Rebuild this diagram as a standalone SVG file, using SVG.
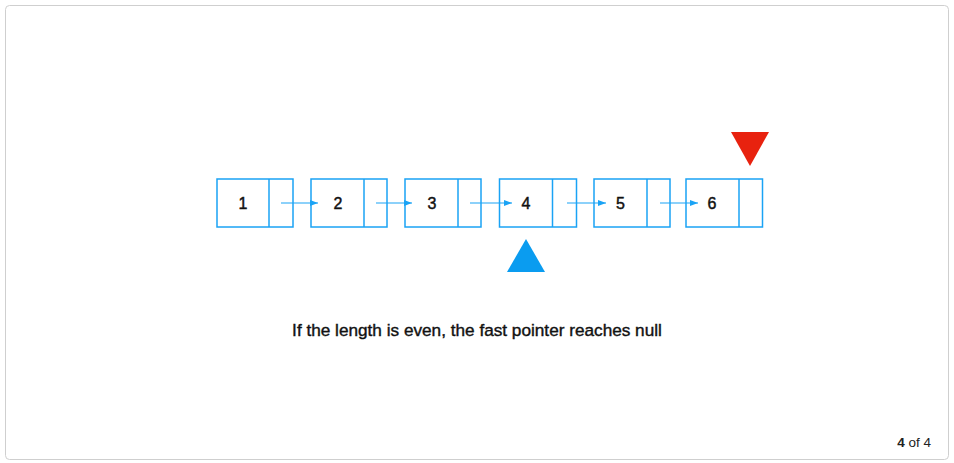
<svg xmlns="http://www.w3.org/2000/svg" width="954" height="463" viewBox="0 0 954 463">
<defs>
<style>
.frame{fill:#fff;stroke:#cfcfcf;stroke-width:1}
.box{fill:#fff;stroke:#1aa3f5;stroke-width:1.5}
.lbl{font-family:"Liberation Sans",Arial,sans-serif;font-size:16px;fill:#111;stroke:#111;stroke-width:0.45;text-anchor:middle}
.link{stroke:#1aa3f5;stroke-width:1.2;fill:none;marker-end:url(#ah)}
.cap{font-family:"Liberation Sans",Arial,sans-serif;font-size:17.2px;fill:#111;stroke:#111;stroke-width:0.4;text-anchor:middle}
.pg{font-family:"Liberation Sans",Arial,sans-serif;font-size:13.5px;fill:#222}
</style>
<marker id="ah" viewBox="0 0 8 6" refX="8" refY="3" markerWidth="8" markerHeight="6" markerUnits="userSpaceOnUse" orient="auto">
<path d="M0,0 L8,3 L0,6 z" fill="#1aa3f5"/>
</marker>
</defs>
<rect class="frame" x="5.5" y="5.5" width="943" height="454" rx="4"/>
<g id="node1"><rect class="box" x="217" y="179" width="76" height="48"/><line class="box" x1="269" y1="179" x2="269" y2="227"/><text class="lbl" x="243" y="209">1</text></g>
<g id="node2"><rect class="box" x="311" y="179" width="76" height="48"/><line class="box" x1="364" y1="179" x2="364" y2="227"/><text class="lbl" x="338" y="209">2</text></g>
<g id="node3"><rect class="box" x="405" y="179" width="76" height="48"/><line class="box" x1="458" y1="179" x2="458" y2="227"/><text class="lbl" x="432" y="209">3</text></g>
<g id="node4"><rect class="box" x="499.5" y="179" width="77" height="48"/><line class="box" x1="552.5" y1="179" x2="552.5" y2="227"/><text class="lbl" x="526" y="209">4</text></g>
<g id="node5"><rect class="box" x="594" y="179" width="76" height="48"/><line class="box" x1="647" y1="179" x2="647" y2="227"/><text class="lbl" x="620.5" y="209">5</text></g>
<g id="node6"><rect class="box" x="686" y="179" width="76.5" height="48"/><line class="box" x1="739" y1="179" x2="739" y2="227"/><text class="lbl" x="712" y="209">6</text></g>
<g id="connectors">
<line class="link" x1="281" y1="203" x2="318" y2="203"/>
<line class="link" x1="376" y1="203" x2="412" y2="203"/>
<line class="link" x1="470" y1="203" x2="512" y2="203"/>
<line class="link" x1="567" y1="203" x2="606" y2="203"/>
<line class="link" x1="660" y1="203" x2="698" y2="203"/>
</g>
<g id="slow"><polygon points="526,239 545,272 507,272" fill="#0a9cf0"/></g>
<g id="fast"><polygon points="731,132 769,132 750,166" fill="#e8220f"/></g>
<text class="cap" x="477" y="336">If the length is even, the fast pointer reaches null</text>
<text class="pg" x="931" y="447" text-anchor="end"><tspan font-weight="bold">4</tspan> of 4</text>
</svg>
